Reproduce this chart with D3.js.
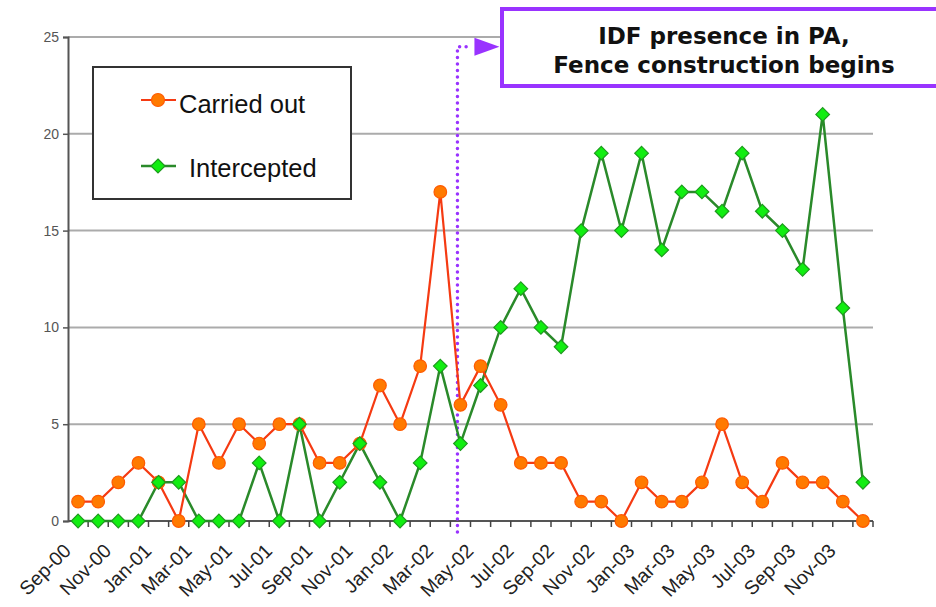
<!DOCTYPE html>
<html>
<head>
<meta charset="utf-8">
<script src="https://cdn.jsdelivr.net/npm/d3@7"></script>
<style>
html,body{margin:0;padding:0;background:#fff;}
svg{display:block;}
</style>
</head>
<body>
<svg id="chart" width="936" height="607"></svg>
<script>
const months = ["Sep-00","Oct-00","Nov-00","Dec-00","Jan-01","Feb-01","Mar-01","Apr-01","May-01","Jun-01","Jul-01","Aug-01","Sep-01","Oct-01","Nov-01","Dec-01","Jan-02","Feb-02","Mar-02","Apr-02","May-02","Jun-02","Jul-02","Aug-02","Sep-02","Oct-02","Nov-02","Dec-02","Jan-03","Feb-03","Mar-03","Apr-03","May-03","Jun-03","Jul-03","Aug-03","Sep-03","Oct-03","Nov-03","Dec-03"];
const carriedOut = [1,1,2,3,2,0,5,3,5,4,5,5,3,3,4,7,5,8,17,6,8,6,3,3,3,1,1,0,2,1,1,2,5,2,1,3,2,2,1,0];
const intercepted = [0,0,0,0,2,2,0,0,0,3,0,5,0,2,4,2,0,3,8,4,7,10,12,10,9,15,19,15,19,14,17,17,16,19,16,15,13,21,11,2];
const yTicks = [0,5,10,15,20,25];
const tickLabels = months.filter((m,i) => i % 2 === 0);
const seriesNames = ["Carried out","Intercepted"];
const annotationLines = ["IDF presence in PA,","Fence construction begins"];
const annotationMonth = "Apr-02";

const svg = d3.select("#chart");
const x = d3.scaleBand().domain(months).range([68, 873]).padding(0);
const y = d3.scaleLinear().domain([0,25]).range([521, 37]);
const bw = x.bandwidth();
const cx = m => x(m) + bw/2;

// gridlines
svg.append("g").selectAll("line").data(yTicks.filter(d => d>0)).join("line")
  .attr("x1", 68).attr("x2", 873)
  .attr("y1", d => y(d)).attr("y2", d => y(d))
  .attr("stroke", "#ababab").attr("stroke-width", 2);

// y axis
const yAxis = svg.append("g").attr("transform","translate(68,0)")
  .call(d3.axisLeft(y).tickValues(yTicks).tickSize(5).tickPadding(4));
yAxis.select(".domain").attr("stroke","#555").attr("stroke-width",2);
yAxis.selectAll(".tick line").attr("stroke","#555").attr("stroke-width",1.5);
yAxis.selectAll(".tick text").attr("fill","#555").attr("font-family","Liberation Sans, Arial, sans-serif").attr("font-size",14);

// x axis
const gx = svg.append("g");
gx.append("line").attr("x1",68).attr("x2",873).attr("y1",y(0)).attr("y2",y(0))
  .attr("stroke","#555").attr("stroke-width",2);
const tickPos = months.map(m => x(m)).concat([x.range()[1]]);
gx.selectAll("line.tk").data(tickPos.slice(1)).join("line").attr("class","tk")
  .attr("x1", d=>d).attr("x2", d=>d).attr("y1", y(0)).attr("y2", y(0)+6)
  .attr("stroke","#444").attr("stroke-width",1.5);
gx.selectAll("text").data(tickLabels).join("text")
  .attr("transform", d => `translate(${cx(d)-6},${y(0)+31}) rotate(-45)`)
  .attr("text-anchor","end")
  .attr("font-family","Liberation Sans, Arial, sans-serif")
  .attr("font-size",19.5).attr("fill","#222")
  .text(d => d);

// annotation dotted line + arrow
const ax = cx(annotationMonth) - 3;
const ay = y(24.5);
svg.append("path")
  .attr("d", `M${ax},${y(0)+11} V${ay} H${ax+14}`)
  .attr("fill","none").attr("stroke","#9933ff").attr("stroke-width",3.5)
  .attr("stroke-linecap","round").attr("stroke-dasharray","0 6.5");
svg.append("path")
  .attr("d", `M${ax+17},${ay-9} L${ax+42},${ay} L${ax+17},${ay+9} Z`)
  .attr("fill","#9933ff");

// lines
const lineGen = d3.line().x((d,i) => cx(months[i])).y(d => y(d));
svg.append("path").datum(intercepted).attr("d", lineGen)
  .attr("fill","none").attr("stroke","#2a8a2a").attr("stroke-width",2.5);
svg.append("path").datum(carriedOut).attr("d", lineGen)
  .attr("fill","none").attr("stroke","#f53a12").attr("stroke-width",2.2);

// markers
svg.append("g").selectAll("circle").data(carriedOut).join("circle")
  .attr("cx",(d,i)=>cx(months[i])).attr("cy",d=>y(d)).attr("r",6.3)
  .attr("fill","#ff7a00").attr("stroke","#ff5a00").attr("stroke-width",1.2);
svg.append("g").selectAll("path").data(intercepted).join("path")
  .attr("d",(d,i)=>{const px=cx(months[i]),py=y(d),s=6.8;return `M${px},${py-s}L${px+s},${py}L${px},${py+s}L${px-s},${py}Z`;})
  .attr("fill","#11ee11").attr("stroke","#1e9a1e").attr("stroke-width",1.2);

// annotation box
svg.append("rect").attr("x",502).attr("y",9).attr("width",440).attr("height",77)
  .attr("fill","#fff").attr("stroke","#9933ff").attr("stroke-width",4);
svg.append("g").selectAll("text").data(annotationLines).join("text")
  .attr("x",724).attr("y",(d,i)=>44+i*29)
  .attr("text-anchor","middle")
  .attr("font-family","DejaVu Sans, Verdana, sans-serif").attr("font-weight","bold")
  .attr("font-size",23).attr("fill","#111")
  .text(d=>d);

// legend
const lg = svg.append("g");
lg.append("rect").attr("x",93).attr("y",67).attr("width",258).attr("height",132)
  .attr("fill","#fff").attr("stroke","#333").attr("stroke-width",2);
// entry 1
lg.append("line").attr("x1",141).attr("x2",176).attr("y1",100).attr("y2",100)
  .attr("stroke","#f53a12").attr("stroke-width",2.2);
lg.append("circle").attr("cx",158).attr("cy",100).attr("r",6.5)
  .attr("fill","#ff7a00").attr("stroke","#ff5a00").attr("stroke-width",1.2);
lg.append("text").attr("x",179).attr("y",113).text(seriesNames[0])
  .attr("font-family","Liberation Sans, Arial, sans-serif").attr("font-size",25.5).attr("fill","#111");
// entry 2
lg.append("line").attr("x1",141).attr("x2",176).attr("y1",166).attr("y2",166)
  .attr("stroke","#2a8a2a").attr("stroke-width",2.5);
lg.append("path").attr("d","M158,159L165,166L158,173L151,166Z")
  .attr("fill","#11ee11").attr("stroke","#1e9a1e").attr("stroke-width",1.2);
lg.append("text").attr("x",189).attr("y",177).text(seriesNames[1])
  .attr("font-family","Liberation Sans, Arial, sans-serif").attr("font-size",25.5).attr("fill","#111");
</script>
</body>
</html>
